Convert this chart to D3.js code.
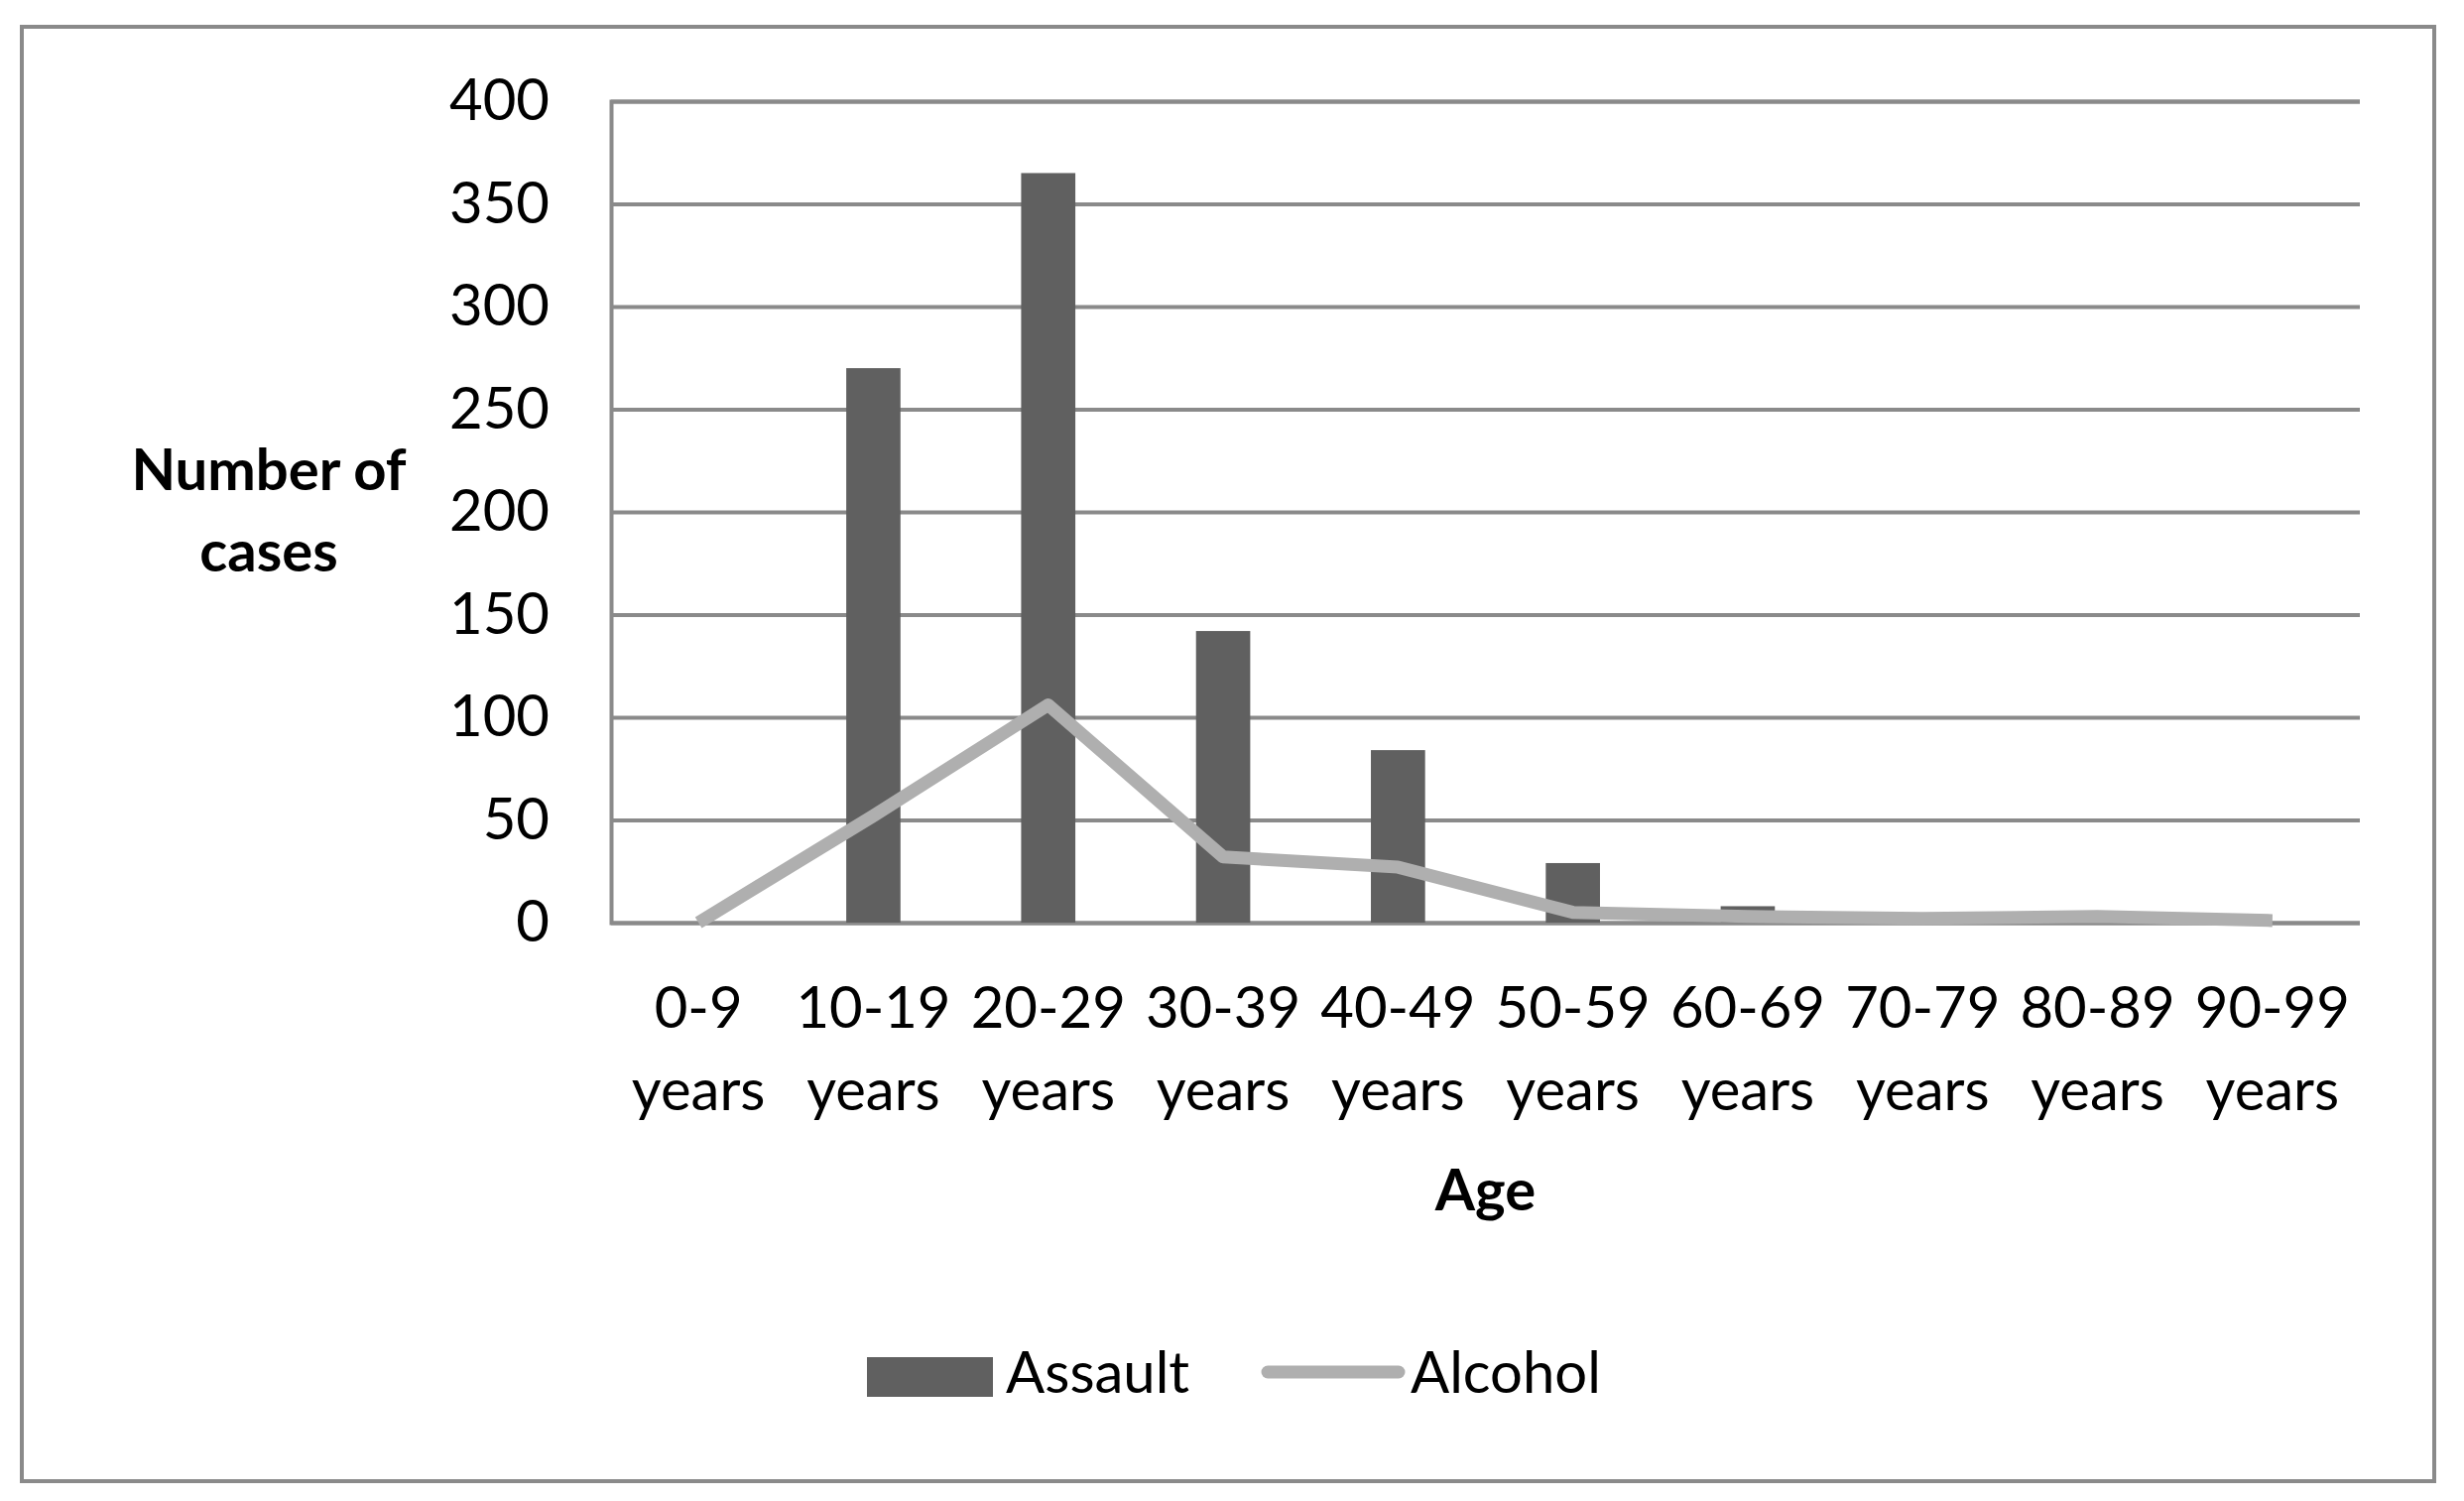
<!DOCTYPE html>
<html>
<head>
  <meta charset="UTF-8">
  <title>Number of cases by age</title>
  <script src="https://d3js.org/d3.v7.min.js"></script>
  <style>
    body { margin: 0; background: #fff; }
    text { font-family: Lato, "Open Sans", sans-serif; fill: #000; }
  </style>
</head>
<body>
  <div id="chart"></div>
  <script>
    // chart values
    const ageGroups = ["0-9", "10-19", "20-29", "30-39", "40-49", "50-59", "60-69", "70-79", "80-89", "90-99"];
    const assault = [0, 270, 365, 142, 84, 29, 8, 0, 0, 0];
    const alcohol = [0, 52, 106, 32, 27, 5, 3, 2, 3, 1];
    const yTicks = [0, 50, 100, 150, 200, 250, 300, 350, 400];

    const W = 2484, H = 1513;
    const plot = { left: 616, right: 2379, top: 102, bottom: 930 };

    const svg = d3.select("#chart")
      .append("svg")
      .attr("width", W)
      .attr("height", H);

    // outer frame
    svg.append("rect")
      .attr("x", 22).attr("y", 27)
      .attr("width", 2432).attr("height", 1466)
      .attr("fill", "#fff")
      .attr("stroke", "#8a8a8a")
      .attr("stroke-width", 4);

    const x = d3.scaleBand()
      .domain(ageGroups)
      .range([plot.left, plot.right])
      .padding(0);

    const y = d3.scaleLinear()
      .domain([0, 400])
      .range([plot.bottom, plot.top]);

    // gridlines + y labels
    const yAxis = d3.axisLeft(y)
      .tickValues(yTicks)
      .tickSize(-(plot.right - plot.left))
      .tickPadding(62);

    const gy = svg.append("g")
      .attr("transform", "translate(" + plot.left + ",0)")
      .call(yAxis);
    gy.select(".domain").attr("stroke", "#8a8a8a").attr("stroke-width", 4);
    gy.selectAll(".tick line").attr("stroke", "#8a8a8a").attr("stroke-width", 4);
    gy.selectAll(".tick text")
      .style("font-size", "58px")
      .attr("fill", "#000");

    // bars
    const barFrac = 0.31;
    svg.selectAll(".bar")
      .data(ageGroups)
      .enter()
      .append("rect")
      .attr("class", "bar")
      .attr("x", d => x(d) + x.bandwidth() * (1 - barFrac) / 2)
      .attr("width", x.bandwidth() * barFrac)
      .attr("y", (d, i) => y(assault[i]))
      .attr("height", (d, i) => y(0) - y(assault[i]))
      .attr("fill", "#606060");

    // alcohol line
    const line = d3.line()
      .x((d, i) => x(ageGroups[i]) + x.bandwidth() / 2)
      .y(d => y(d));

    svg.append("path")
      .datum(alcohol)
      .attr("d", line)
      .attr("fill", "none")
      .attr("stroke", "#afafaf")
      .attr("stroke-width", 13)
      .attr("stroke-linejoin", "round");

    // x labels (two lines)
    const xl = svg.selectAll(".xlab")
      .data(ageGroups)
      .enter()
      .append("text")
      .attr("class", "xlab")
      .attr("text-anchor", "middle")
      .style("font-size", "58px");
    xl.append("tspan")
      .attr("x", d => x(d) + x.bandwidth() / 2)
      .attr("y", 1036)
      .text(d => d);
    xl.append("tspan")
      .attr("x", d => x(d) + x.bandwidth() / 2)
      .attr("y", 1119)
      .text("years");

    // axis titles
    svg.append("text")
      .attr("x", (plot.left + plot.right) / 2)
      .attr("y", 1220)
      .attr("text-anchor", "middle")
      .style("font-size", "58px")
      .style("font-weight", "bold")
      .text("Age");

    const yt = svg.append("text")
      .attr("text-anchor", "middle")
      .style("font-size", "58px")
      .style("font-weight", "bold");
    yt.append("tspan").attr("x", 271).attr("y", 494).text("Number of");
    yt.append("tspan").attr("x", 271).attr("y", 576).text("cases");

    // legend
    svg.append("rect")
      .attr("x", 874).attr("y", 1368)
      .attr("width", 127).attr("height", 40)
      .attr("fill", "#606060");
    svg.append("text")
      .attr("x", 1014).attr("y", 1404)
      .style("font-size", "58px")
      .text("Assault");
    svg.append("line")
      .attr("x1", 1278).attr("x2", 1410)
      .attr("y1", 1383).attr("y2", 1383)
      .attr("stroke", "#afafaf")
      .attr("stroke-width", 13)
      .attr("stroke-linecap", "round");
    svg.append("text")
      .attr("x", 1422).attr("y", 1404)
      .style("font-size", "58px")
      .text("Alcohol");
  </script>
</body>
</html>
